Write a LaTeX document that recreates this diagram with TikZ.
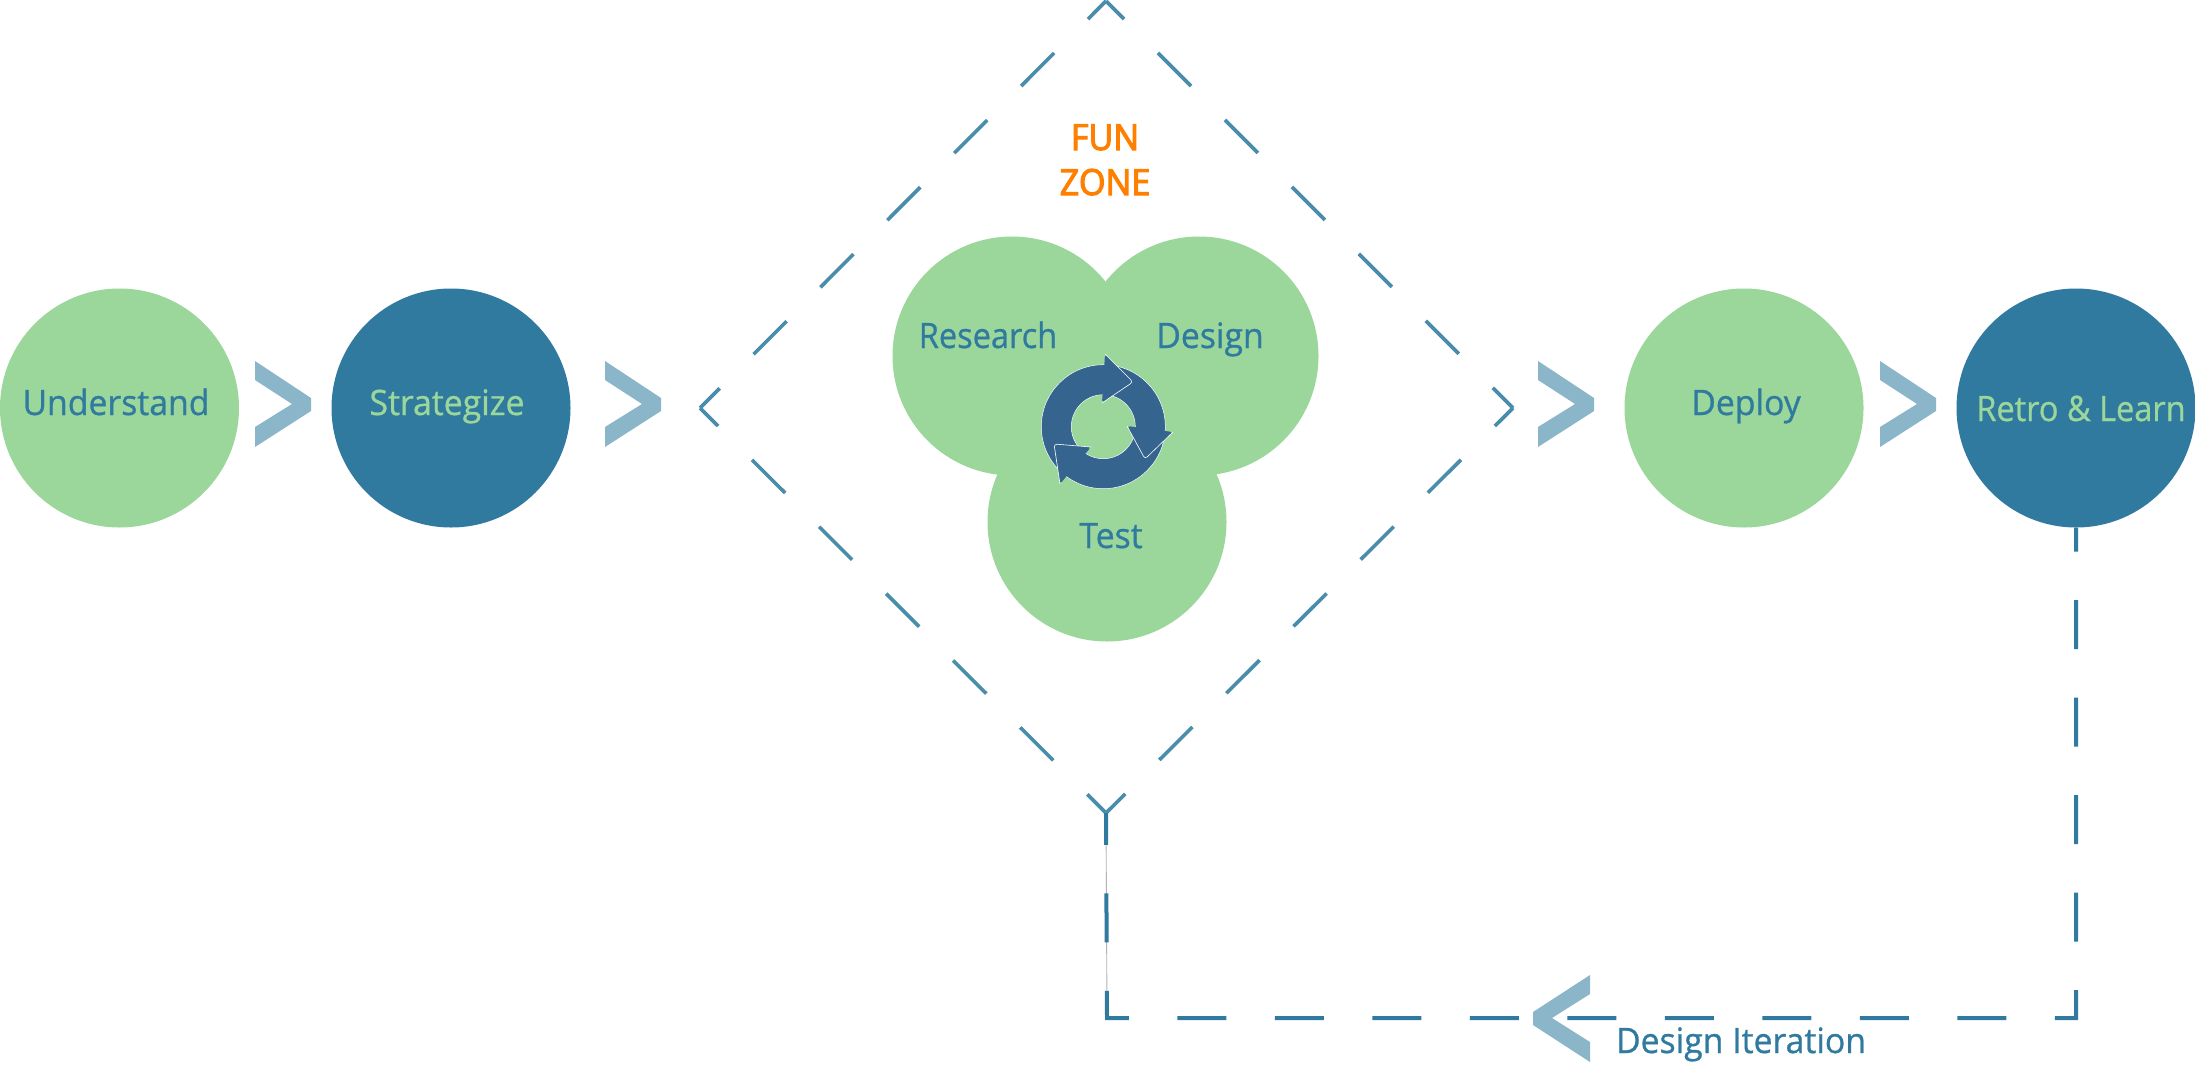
\documentclass[tikz,border=0pt]{standalone}
\usepackage{fontspec}
\setmainfont{Open Sans}[FakeStretch=0.965,FakeBold=0.8]
\newfontfamily\tightfont{Open Sans}[FakeStretch=0.93,FakeBold=0.8]
\newfontfamily\funfont{Open Sans}[FakeStretch=0.95,FakeBold=3]
\usetikzlibrary{calc}
\definecolor{leaf}{HTML}{9BD69A}
\definecolor{deep}{HTML}{307AA0}
\definecolor{dia}{HTML}{4A8CAB}
\definecolor{chev}{HTML}{8BB5C8}
\definecolor{icon}{HTML}{35658F}
\definecolor{fun}{HTML}{FF8000}
\tikzset{
  blob/.style={circle,minimum size=239pt,inner sep=0pt,draw=none},
  greenblob/.style={blob,fill=leaf},
  deepblob/.style={blob,fill=deep},
  lab/.style={anchor=base,inner sep=0pt,font=\fontsize{35}{35}\selectfont,text=deep},
  tightlab/.style={lab,font=\tightfont\fontsize{35}{35}\selectfont},
  labinv/.style={lab,text=leaf},
  tightinv/.style={tightlab,text=leaf},
  funlab/.style={anchor=base,inner sep=0pt,font=\funfont\fontsize{36}{36}\selectfont,text=fun},
  chevfill/.style={fill=chev,draw=none},
  diaedge/.style={draw=dia,line width=3.6pt,dash pattern=on 46.7pt off 48pt,dash phase=21.2pt},
  iter/.style={draw=deep,line width=4pt,dash pattern=on 49pt off 48.5pt,dash phase=25pt},
  thin gray/.style={draw=black!30,line width=0.9pt},
  headfill/.style={fill=icon,rounded corners=3pt},
  headline/.style={draw=white,line width=0.6pt,rounded corners=3pt},
}
\begin{document}
\begin{tikzpicture}[x=1pt,y=-1pt]
\useasboundingbox (0,0) rectangle (2195,1092);
% diamond
\coordinate (dt) at (1106,1);
\coordinate (dl) at (700,408);
\coordinate (dr) at (1513,408);
\coordinate (db) at (1106,813);
\draw[diaedge] (dt) -- (dl);
\draw[diaedge] (dt) -- (dr);
\draw[diaedge] (dl) -- (db);
\draw[diaedge] (dr) -- (db);
% phases circles
\node[greenblob] (understand) at (119.5,408) {};
\node[deepblob] (strategize) at (451,408) {};
\node[greenblob] (deploy) at (1744,408) {};
\node[deepblob] (retro) at (2076,408) {};
\node[greenblob] (research) at (1012,356) {};
\node[greenblob] (design) at (1199,356) {};
\node[greenblob] (testc) at (1107,522) {};
% feedback line
\coordinate (br) at (2076,1018);
\coordinate (bl) at (1107,1018);
\draw[thin gray] (bl) -- (db);
\draw[iter] (retro.south) -- (br) -- (bl) -- (db);
% chevrons
\foreach \cx/\nm in {255/a,605/b,1538/c,1880/d}{
  \fill[chevfill,shift={(\cx,0)}] (0,361) -- (56,398) -- (56,411) -- (0,447) -- (0,427) -- (37,404) -- (0,380) -- cycle;
}
\fill[chevfill] (1590,975) -- (1533,1012) -- (1533,1025) -- (1590,1062) -- (1590,1042) -- (1552,1018) -- (1590,994) -- cycle;
% cycle icon
\coordinate (ic) at (1103.3,426.7);
\fill[icon,draw=white,line width=0.5pt,even odd rule] (ic) circle[radius=62] (ic) circle[radius=32];
\fill[headfill] (1105,354) -- (1133,382) -- (1102,403) -- cycle;
\draw[headline] (1105,354) -- (1133,382) -- (1102,403);
\fill[headfill] (1127,426) -- (1173,432) -- (1145,459) -- cycle;
\draw[headline] (1127,426) -- (1145,459) -- (1173,432);
\fill[headfill] (1054,444) -- (1091,447) -- (1060,484) -- cycle;
\draw[headline] (1091,447) -- (1054,444) -- (1060,484);
% labels
\node[lab] (tunderstand) at (116,415) {Understand};
\node[labinv] (tstrategize) at (447,415) {Strategize};
\node[tightlab] (tresearch) at (988,348) {Research};
\node[lab] (tdesign) at (1210,348) {Design};
\node[lab] (ttest) at (1111,548) {Test};
\node[lab] (tdeploy) at (1746,415) {Deploy};
\node[tightinv] (tretro) at (2081,421) {Retro \& Learn};
\node[funlab] (tfun) at (1105,150) {FUN};
\node[funlab] (tzone) at (1105,195) {ZONE};
\node[lab] (titer) at (1741,1053) {Design Iteration};
\end{tikzpicture}
\end{document}
